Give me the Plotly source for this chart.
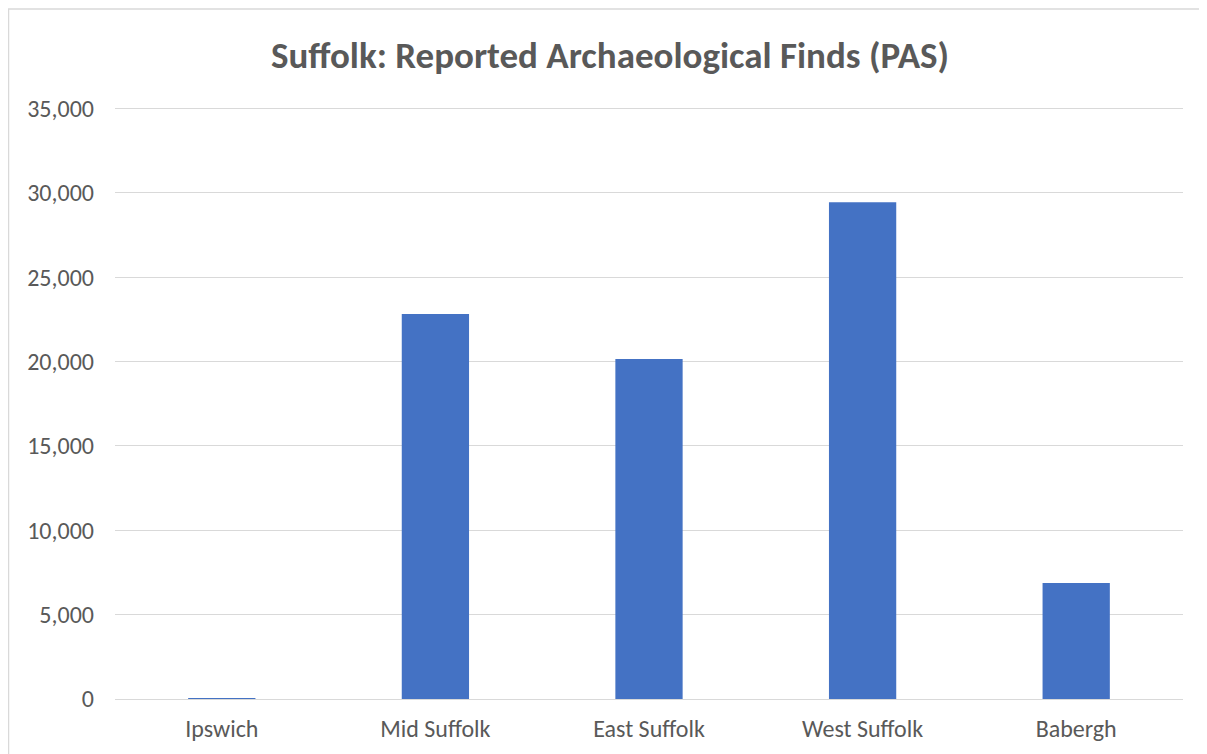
import plotly.graph_objects as go

categories = ["Ipswich", "Mid Suffolk", "East Suffolk", "West Suffolk", "Babergh"]
finds = [8, 22820, 20140, 29440, 6880]
tick_vals = [0, 5000, 10000, 15000, 20000, 25000, 30000, 35000]
tick_text = ["0", "5,000", "10,000", "15,000", "20,000", "25,000", "30,000", "35,000"]

# page body adds an 8px offset, so the figure is laid out in page px minus 8
W, H = 1199, 746
L, R, T, B = 107, 24, 99, 55
pw, ph = W - L - R, H - T - B

fig = go.Figure(go.Bar(
    x=categories, y=finds, marker=dict(color="#4472C4", line=dict(width=0)),
    width=0.315,
))

fig.update_layout(
    width=W, height=H,
    margin=dict(l=L, r=R, t=T, b=B),
    paper_bgcolor="white", plot_bgcolor="white",
    font=dict(family="Carlito, Calibri, Open Sans, sans-serif", color="#595959", size=24),
    title=dict(text="<b>Suffolk: Reported Archaeological Finds (PAS)</b>",
               x=(610 - 8) / W, xanchor="center", y=1 - (55 - 8) / H, yanchor="middle",
               font=dict(size=37, color="#595959")),
    showlegend=False,
)
fig.update_yaxes(range=[0, 35080], tickvals=tick_vals, ticktext=tick_text,
                 showgrid=True, gridcolor="#D9D9D9", gridwidth=1.3,
                 zeroline=False, showline=False, ticks="", ticklabelstandoff=20)
fig.update_xaxes(showline=True, linecolor="#D9D9D9", linewidth=1.3, ticks="",
                 showgrid=False, ticklabelstandoff=8)

fig.add_shape(type="rect", xref="paper", yref="paper",
              x0=(0.5 - L) / pw, x1=(W + 20 - L) / pw,
              y0=(H - B - (H + 20)) / ph, y1=(H - B - 1) / ph,
              line=dict(color="#D9D9D9", width=1.5), fillcolor="rgba(0,0,0,0)")

fig.write_html("out.html")
